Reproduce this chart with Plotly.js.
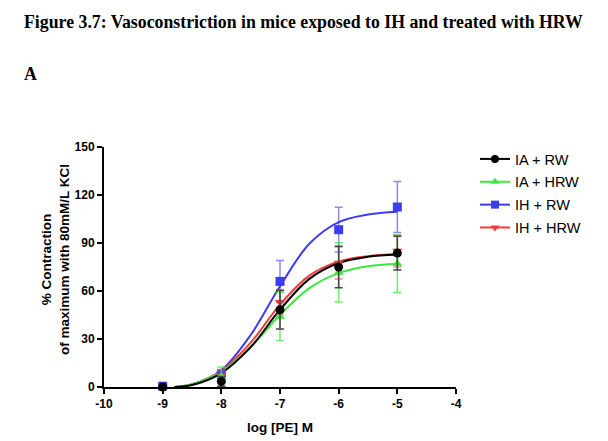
<!DOCTYPE html>
<html>
<head>
<meta charset="utf-8">
<script src="https://cdn.plot.ly/plotly-3.0.1.min.js"></script>
<style>
html,body{margin:0;padding:0;background:#fff;}
#chart{width:608px;height:441px;}
</style>
</head>
<body>
<div id="chart"></div>
<script>
// Group names
const groups = ["IA + RW", "IA + HRW", "IH + RW", "IH + HRW"];
const colors = ["#000000", "#3ee83e", "#3c3cf0", "#f03c3c"];
const symbols = ["circle", "triangle-up", "square", "triangle-down"];

// Measured points (log [PE] M)
const logPE = [-9, -8, -7, -6, -5];
const iaRW   = [0, 3.5, 48.3, 75.0, 83.7];
const iaHRW  = [0, 6.5, 44.0, 71.6, 77.0];
const ihRW   = [0.5, 8.0, 66.0, 98.3, 112.5];
const ihHRW  = [0, 7.0, 53.0, 77.5, 85.0];
// SEM
const iaRWerr  = [0, 3.0, 12.0, 13.0, 10.5];
const iaHRWerr = [0, 6.0, 15.0, 18.5, 18.0];
const ihRWerr  = [0, 3.0, 13.0, 14.0, 16.0];
const ihHRWerr = [0, 3.0, 8.0, 10.0, 10.0];

// Fitted curves
const curveX     = [-8.8, -8.5, -8, -7.5, -7, -6.5, -6, -5.5, -5];
const iaRWfit    = [0, 1.2, 8.7, 24.9, 48.3, 67.6, 77.5, 81.4, 82.8];
const iaHRWfit   = [0, 1.8, 9.5, 25.1, 45.0, 61.8, 71.2, 75.4, 77.0];
const ihRWfit    = [0, 1.5, 10.5, 32.5, 63.0, 89.5, 103.0, 107.8, 109.5];
const ihHRWfit   = [0, 1.7, 10.1, 27.7, 51.5, 69.6, 78.5, 81.8, 82.9];

const pts  = [iaRW, iaHRW, ihRW, ihHRW];
const errs = [iaRWerr, iaHRWerr, ihRWerr, ihHRWerr];
const fits = [iaRWfit, iaHRWfit, ihRWfit, ihHRWfit];
const errColors = ["#444444", "rgba(62,232,62,0.75)", "rgba(60,60,240,0.6)", "rgba(240,60,60,0.6)"];

const traces = [];
const drawOrder = [2, 3, 1, 0];
drawOrder.forEach(i => {
  traces.push({
    x: curveX, y: fits[i], mode: "lines", type: "scatter",
    line: {color: colors[i], width: 2, shape: "spline", smoothing: 1},
    showlegend: false, hoverinfo: "skip"
  });
});
drawOrder.forEach(i => {
  traces.push({
    x: logPE, y: pts[i], mode: "markers", type: "scatter",
    marker: {color: colors[i], symbol: symbols[i], size: 9},
    error_y: {type: "data", array: errs[i], visible: true, color: errColors[i], thickness: 1.5, width: 4},
    cliponaxis: false, showlegend: false
  });
});
// legend entries
[0, 1, 2, 3].forEach(i => {
  traces.push({
    x: [null], y: [null], mode: "lines+markers", type: "scatter", name: groups[i],
    line: {color: colors[i], width: 2},
    marker: {color: colors[i], symbol: symbols[i], size: 8},
    legendgroup: "g" + i
  });
});

const PL = 104, PT = 147, PW = 352, PH = 240;
const px = v => (v - PL) / PW;
const py = v => 1 - (v - PT) / PH;

const layout = {
  width: 608, height: 441,
  margin: {l: PL, r: 608 - PL - PW, t: PT, b: 441 - PT - PH},
  paper_bgcolor: "#fff", plot_bgcolor: "#fff",
  font: {family: "Liberation Sans, Arial, sans-serif", color: "#000"},
  showlegend: true,
  legend: {x: px(475), y: py(143), xanchor: "left", yanchor: "top",
           font: {size: 14.5, family: "Liberation Sans, Arial, sans-serif"},
           tracegroupgap: 1, itemwidth: 30},
  xaxis: {
    range: [-10, -4], tickvals: [-10, -9, -8, -7, -6, -5, -4],
    ticktext: ["-10", "-9", "-8", "-7", "-6", "-5", "-4"],
    showgrid: false, zeroline: false, showline: true, linecolor: "#000", linewidth: 2,
    ticks: "outside", ticklen: 5, tickwidth: 2, tickcolor: "#000",
    tickfont: {size: 12, family: "Liberation Sans, Arial, sans-serif", weight: "bold"},
    title: {text: "<b>log [PE] M</b>", font: {size: 13.5}, standoff: 12}
  },
  yaxis: {
    range: [0, 150], tickvals: [0, 30, 60, 90, 120, 150],
    showgrid: false, zeroline: false, showline: true, linecolor: "#000", linewidth: 2,
    ticks: "outside", ticklen: 5, tickwidth: 2, tickcolor: "#000",
    tickfont: {size: 12, family: "Liberation Sans, Arial, sans-serif", weight: "bold"}
  },
  annotations: [
    {text: "<b>Figure 3.7: Vasoconstriction in mice exposed to IH and treated with HRW</b>",
     xref: "paper", yref: "paper", x: px(22), y: py(22),
     xanchor: "left", yanchor: "middle", showarrow: false,
     font: {family: "Liberation Serif, Times New Roman, serif", size: 17.8, color: "#000"}},
    {text: "<b>A</b>",
     xref: "paper", yref: "paper", x: px(22), y: py(74),
     xanchor: "left", yanchor: "middle", showarrow: false,
     font: {family: "Liberation Serif, Times New Roman, serif", size: 17.8, color: "#000"}},
    {text: "<b>% Contraction<br>of maximum with 80mM/L KCl</b>",
     xref: "paper", yref: "paper", x: px(55), y: py(260),
     xanchor: "center", yanchor: "middle", showarrow: false, textangle: -90,
     font: {family: "Liberation Sans, Arial, sans-serif", size: 13.5, color: "#000"}}
  ]
};

Plotly.newPlot("chart", traces, layout, {displayModeBar: false, staticPlot: true});
</script>
</body>
</html>
